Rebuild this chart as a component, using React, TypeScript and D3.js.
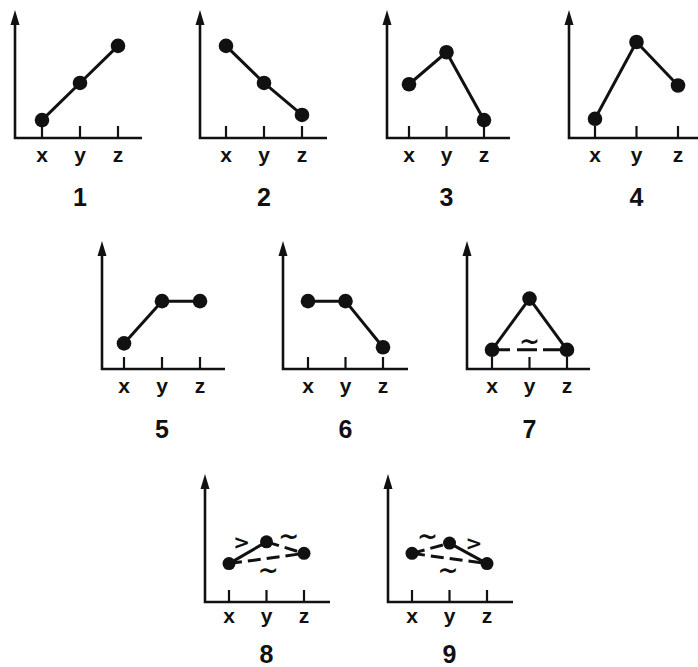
import React from "react";
import * as d3 from "d3";

// categories on every small x axis
const categories = ["x", "y", "z"];
const panelNames = ["1", "2", "3", "4", "5", "6", "7", "8", "9"];

// heights of x, y, z in each panel (axis units 0..10)
const panelValues = [
  [1.4, 4.3, 7.2],
  [7.2, 4.3, 1.8],
  [4.2, 6.7, 1.4],
  [1.5, 7.5, 4.1],
  [2.0, 5.3, 5.3],
  [5.3, 5.3, 1.7],
  [1.5, 5.5, 1.5],
  [3.0, 4.7, 3.8],
  [3.8, 4.6, 3.0],
];

// links: [from, to, kind, symbol, side]
type Link = [string, string, string, string, string];
const panelLinks: Link[][] = [
  [["x", "y", "solid", "", ""], ["y", "z", "solid", "", ""]],
  [["x", "y", "solid", "", ""], ["y", "z", "solid", "", ""]],
  [["x", "y", "solid", "", ""], ["y", "z", "solid", "", ""]],
  [["x", "y", "solid", "", ""], ["y", "z", "solid", "", ""]],
  [["x", "y", "solid", "", ""], ["y", "z", "solid", "", ""]],
  [["x", "y", "solid", "", ""], ["y", "z", "solid", "", ""]],
  [["x", "y", "solid", "", ""], ["y", "z", "solid", "", ""], ["x", "z", "gap", "~", "on"]],
  [["x", "y", "solid", ">", "up"], ["y", "z", "dash", "~", "up"], ["x", "z", "dash", "~", "down"]],
  [["x", "y", "dash", "~", "up"], ["y", "z", "solid", ">", "up"], ["x", "z", "dash", "~", "down"]],
];

// ---- layout ----
const W = 698;
const H = 667;
const rowBase = [138, 369, 602];
const rowLabelDy = [24, 24, 21];
const rowNumDy = [68, 69, 61];
const axisH = 128;

const panelLayout = [
  { row: 0, left: 15, first: 42, step: 38, right: 142 },
  { row: 0, left: 200, first: 226, step: 38, right: 327 },
  { row: 0, left: 387, first: 409, step: 37.5, right: 510 },
  { row: 0, left: 569, first: 595, step: 41.5, right: 698 },
  { row: 1, left: 102, first: 124, step: 38, right: 225 },
  { row: 1, left: 283, first: 308, step: 37.5, right: 408 },
  { row: 1, left: 467, first: 492, step: 37.5, right: 590 },
  { row: 2, left: 205, first: 229, step: 37.5, right: 330 },
  { row: 2, left: 388, first: 412, step: 37.5, right: 513 },
];

const font = "'Liberation Sans', Arial, sans-serif";
const ink = "#111";

const dashFor: Record<string, string | undefined> = {
  solid: undefined,
  dash: "13 6",
  gap: "18 7 20 6 40",
};

const Panel = ({ i }: { i: number }) => {
  const lay = panelLayout[i];
  const base = rowBase[lay.row];
  const x = d3.scalePoint<string>().domain(categories).range([lay.first, lay.first + 2 * lay.step]);
  const y = d3.scaleLinear().domain([0, 10]).range([base, base - axisH]);
  const vals = panelValues[i];
  const pt = (c: string) => [x(c) as number, y(vals[categories.indexOf(c)])];
  const top = base - axisH;

  const axisPath = d3.path();
  axisPath.moveTo(lay.left, top + 10);
  axisPath.lineTo(lay.left, base);
  axisPath.lineTo(lay.right, base);

  const arrow = d3.path();
  arrow.moveTo(lay.left, top);
  arrow.lineTo(lay.left - 4.5, top + 15);
  arrow.lineTo(lay.left + 4.5, top + 15);
  arrow.closePath();

  const line = d3.line();

  return (
    <g>
      <path d={axisPath.toString()} fill="none" stroke={ink} strokeWidth={2.6} />
      <path d={arrow.toString()} fill={ink} />
      {categories.map((c) => (
        <g key={c}>
          <line x1={x(c)} x2={x(c)} y1={base} y2={base - 12} stroke={ink} strokeWidth={2.2} />
          <text
            x={x(c)}
            y={base + rowLabelDy[lay.row]}
            textAnchor="middle"
            fontFamily={font}
            fontWeight="bold"
            fontSize={21}
            fill={ink}
          >
            {c}
          </text>
        </g>
      ))}
      {panelLinks[i].map(([a, b, kind, sym, side], k) => {
        const p = pt(a) as [number, number];
        const q = pt(b) as [number, number];
        const dx = q[0] - p[0];
        const dy = q[1] - p[1];
        const len = Math.hypot(dx, dy);
        // upward normal
        let nx = dy / len;
        let ny = -dx / len;
        if (ny > 0) {
          nx = -nx;
          ny = -ny;
        }
        const dist = side === "on" ? 8 : side === "down" ? -12 : 12;
        const mx = (p[0] + q[0]) / 2 + nx * dist;
        const my = (p[1] + q[1]) / 2 + ny * dist;
        return (
          <g key={k}>
            <path
              d={line([p, q]) as string}
              stroke={ink}
              strokeWidth={3}
              strokeDasharray={dashFor[kind]}
              fill="none"
            />
            {sym && (
              <text
                x={mx}
                y={my}
                textAnchor="middle"
                dominantBaseline="central"
                fontFamily="'DejaVu Sans', sans-serif"
                fontWeight="bold"
                fontSize={sym === ">" ? 20 : 25}
                fill={ink}
              >
                {sym}
              </text>
            )}
          </g>
        );
      })}
      {categories.map((c) => {
        const [cx, cy] = pt(c);
        return <circle key={c} cx={cx} cy={cy} r={lay.row === 2 ? 6.5 : 7.3} fill={ink} />;
      })}
      <text
        x={x("y")}
        y={base + rowNumDy[lay.row]}
        textAnchor="middle"
        fontFamily={font}
        fontWeight="bold"
        fontSize={25}
        fill={ink}
      >
        {panelNames[i]}
      </text>
    </g>
  );
};

export default function App() {
  return (
    <div style={{ position: "absolute", left: 0, top: 0, width: W, height: H, background: "#fff" }}>
      <svg width={W} height={H} viewBox={`0 0 ${W} ${H}`}>
        <rect width={W} height={H} fill="#fff" />
        {panelNames.map((_, i) => (
          <Panel key={i} i={i} />
        ))}
      </svg>
    </div>
  );
}
